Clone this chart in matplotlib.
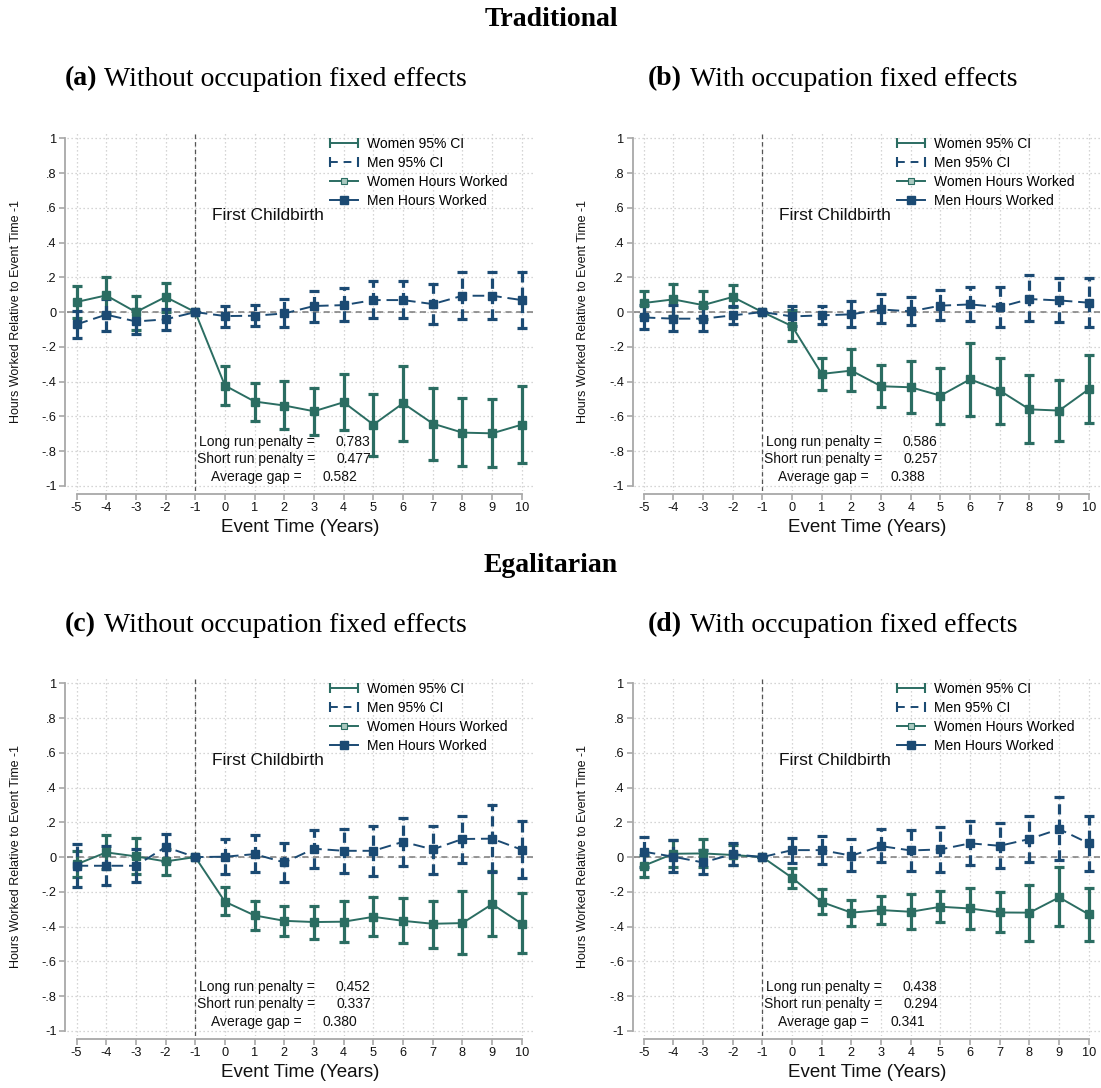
import matplotlib
matplotlib.use("Agg")
import matplotlib.pyplot as plt
import numpy as np
from matplotlib.lines import Line2D
from matplotlib.legend_handler import HandlerLine2D

plt.rcParams['font.family'] = ['Liberation Sans', 'DejaVu Sans']

# ---------------- data ----------------
event_time = list(range(-5, 11))
ytick_vals = [-1, -0.8, -0.6, -0.4, -0.2, 0, 0.2, 0.4, 0.6, 0.8, 1]
ytick_labels = ["-1", "-.8", "-.6", "-.4", "-.2", "0", ".2", ".4", ".6", ".8", "1"]

women_a = [0.058, 0.096, 0.0, 0.087, 0.0, -0.423, -0.515, -0.538, -0.571, -0.519, -0.648, -0.525, -0.642, -0.694, -0.698, -0.648]
women_a_lo = [-0.035, -0.01, -0.105, 0.0, 0.0, -0.533, -0.625, -0.675, -0.71, -0.679, -0.831, -0.744, -0.85, -0.888, -0.892, -0.867]
women_a_hi = [0.15, 0.20, 0.095, 0.17, 0.0, -0.308, -0.408, -0.398, -0.435, -0.354, -0.469, -0.308, -0.435, -0.496, -0.502, -0.423]
men_a = [-0.071, -0.015, -0.054, -0.042, 0.0, -0.023, -0.021, -0.008, 0.035, 0.040, 0.069, 0.069, 0.046, 0.094, 0.094, 0.069]
men_a_lo = [-0.152, -0.11, -0.125, -0.102, 0.0, -0.085, -0.081, -0.087, -0.058, -0.052, -0.037, -0.037, -0.069, -0.042, -0.042, -0.092]
men_a_hi = [0.004, 0.075, 0.02, 0.02, 0.0, 0.035, 0.042, 0.075, 0.121, 0.138, 0.177, 0.177, 0.160, 0.229, 0.229, 0.229]

women_b = [0.052, 0.073, 0.040, 0.087, 0.0, -0.081, -0.356, -0.337, -0.427, -0.433, -0.481, -0.387, -0.452, -0.560, -0.567, -0.444]
women_b_lo = [-0.02, -0.02, -0.04, 0.03, 0.0, -0.165, -0.45, -0.456, -0.548, -0.581, -0.642, -0.596, -0.644, -0.754, -0.744, -0.640]
women_b_hi = [0.121, 0.160, 0.121, 0.154, 0.0, 0.01, -0.262, -0.212, -0.302, -0.283, -0.321, -0.179, -0.262, -0.363, -0.392, -0.246]
men_b = [-0.031, -0.038, -0.038, -0.019, 0.0, -0.025, -0.019, -0.013, 0.015, 0.004, 0.037, 0.044, 0.029, 0.075, 0.067, 0.054]
men_b_lo = [-0.100, -0.108, -0.108, -0.069, 0.0, -0.081, -0.071, -0.087, -0.063, -0.075, -0.046, -0.054, -0.087, -0.054, -0.058, -0.087]
men_b_hi = [0.04, 0.038, 0.03, 0.033, 0.0, 0.033, 0.035, 0.063, 0.102, 0.087, 0.125, 0.144, 0.144, 0.213, 0.196, 0.196]

women_c = [-0.042, 0.027, 0.004, -0.025, 0.0, -0.257, -0.336, -0.367, -0.374, -0.372, -0.344, -0.367, -0.384, -0.380, -0.271, -0.384]
women_c_lo = [-0.117, -0.07, -0.098, -0.102, 0.0, -0.336, -0.422, -0.453, -0.470, -0.488, -0.453, -0.493, -0.522, -0.559, -0.453, -0.553]
women_c_hi = [0.035, 0.127, 0.107, 0.046, 0.0, -0.173, -0.253, -0.280, -0.280, -0.253, -0.230, -0.236, -0.253, -0.198, -0.083, -0.209]
men_c = [-0.050, -0.050, -0.050, 0.058, 0.0, 0.002, 0.017, -0.031, 0.048, 0.036, 0.036, 0.088, 0.044, 0.104, 0.106, 0.042]
men_c_lo = [-0.171, -0.159, -0.142, -0.02, 0.0, -0.098, -0.088, -0.142, -0.061, -0.090, -0.111, -0.050, -0.100, -0.033, -0.084, -0.123]
men_c_hi = [0.075, 0.065, 0.046, 0.134, 0.0, 0.104, 0.127, 0.081, 0.155, 0.161, 0.179, 0.226, 0.179, 0.236, 0.299, 0.207]

women_d = [-0.050, 0.019, 0.021, 0.012, 0.0, -0.119, -0.259, -0.320, -0.305, -0.315, -0.286, -0.296, -0.319, -0.320, -0.232, -0.330]
women_d_lo = [-0.113, -0.06, -0.06, -0.046, 0.0, -0.178, -0.326, -0.397, -0.388, -0.415, -0.372, -0.415, -0.434, -0.482, -0.395, -0.482]
women_d_hi = [0.01, 0.10, 0.104, 0.07, 0.0, -0.061, -0.186, -0.248, -0.223, -0.213, -0.196, -0.177, -0.202, -0.161, -0.060, -0.177]
men_d = [0.031, 0.002, -0.031, 0.017, 0.0, 0.040, 0.040, 0.008, 0.063, 0.038, 0.044, 0.079, 0.065, 0.104, 0.161, 0.079]
men_d_lo = [-0.06, -0.084, -0.100, -0.046, 0.0, -0.036, -0.042, -0.079, -0.031, -0.079, -0.084, -0.044, -0.061, -0.027, -0.017, -0.079]
men_d_hi = [0.113, 0.096, 0.04, 0.079, 0.0, 0.107, 0.119, 0.104, 0.161, 0.155, 0.173, 0.207, 0.196, 0.236, 0.344, 0.236]

stat_labels = ["Long run penalty =", "Short run penalty =", "Average gap ="]
stats_a = ["0.783", "0.477", "0.582"]
stats_b = ["0.586", "0.257", "0.388"]
stats_c = ["0.452", "0.337", "0.380"]
stats_d = ["0.438", "0.294", "0.341"]

legend_labels = ["Women 95% CI", "Men 95% CI", "Women Hours Worked", "Men Hours Worked"]

# ---------------- style ----------------
W_COL = '#2b6d62'
M_COL = '#1b4a73'
SPINE = '#a8a8a8'
GRID = '#c8c8c8'

W, H = 1101, 1088
fig = plt.figure(figsize=(W / 100, H / 100), dpi=100)


def add_axes_px(left, right, top, bottom):
    return fig.add_axes([left / W, 1 - bottom / H, (right - left) / W, (bottom - top) / H])


def draw_panel(ax, women, wlo, whi, men, mlo, mhi, stats):
    x = np.array(event_time, dtype=float)
    women = np.array(women); wlo = np.array(wlo); whi = np.array(whi)
    men = np.array(men); mlo = np.array(mlo); mhi = np.array(mhi)
    ax.set_xlim(-5.32, 10.41)
    ax.set_ylim(-1.03, 1.04)
    ax.set_xticks(event_time)
    ax.set_xticklabels([str(v) for v in event_time])
    ax.set_yticks(ytick_vals)
    ax.set_yticklabels(ytick_labels)
    ax.grid(True, color=GRID, linestyle=(0, (1, 2.2)), linewidth=0.9)
    ax.set_axisbelow(True)
    for s in ['top', 'right']:
        ax.spines[s].set_visible(False)
    ax.spines['left'].set_bounds(-1, 1)
    ax.spines['bottom'].set_bounds(-5, 10)
    ax.spines['left'].set_position(('outward', 1.2))
    ax.spines['bottom'].set_position(('outward', 2.2))
    for s in ['left', 'bottom']:
        ax.spines[s].set_color(SPINE)
        ax.spines[s].set_linewidth(1.3)
    ax.tick_params(axis='both', colors=SPINE, length=4.2, width=1.2, labelcolor='#111111', labelsize=9.2)
    ax.tick_params(axis='y', pad=2)
    ax.tick_params(axis='x', pad=1.5)

    ax.axhline(0, color='#7a7a7a', linestyle=(0, (4, 3)), linewidth=1.1, zorder=1)
    ax.axvline(-1, color='#555555', linestyle=(0, (3.5, 2.5)), linewidth=0.9, zorder=1)

    ax.errorbar(x, women, yerr=[women - wlo, whi - women], fmt='none', ecolor=W_COL,
                elinewidth=2.3, capsize=3.8, capthick=2.3, zorder=3)
    ebm = ax.errorbar(x, men, yerr=[men - mlo, mhi - men], fmt='none', ecolor=M_COL,
                      elinewidth=2.3, capsize=3.8, capthick=2.3, zorder=4)
    ebm.lines[2][0].set_linestyle((0, (3.2, 1.6)))
    ax.plot(x, women, color=W_COL, lw=1.4, marker='s', ms=5.5, zorder=5)
    ax.plot(x, men, color=M_COL, lw=1.4, ls=(0, (6, 3)), marker='s', ms=5.5, zorder=6)

    ax.text(-0.44, 0.554, "First Childbirth", fontsize=12.5, va='center', ha='left', color='#111111')
    ys = [-0.747, -0.848, -0.948]
    lx = [-0.88, -0.94, -0.47]
    vx = [3.73, 3.77, 3.30]
    for lab, val, yy, a, b in zip(stat_labels, stats, ys, lx, vx):
        ax.text(a, yy, lab, fontsize=10, va='center', ha='left', color='#111111')
        ax.text(b, yy, val, fontsize=10, va='center', ha='left', color='#111111')

    h1 = Line2D([], [], color=W_COL, lw=1.4, marker='|', ms=7, mew=1.5)
    h2 = Line2D([], [], color=M_COL, lw=1.4, ls=(0, (4, 3)), marker='|', ms=7, mew=1.5)
    h3 = Line2D([], [], color=W_COL, lw=1.4, marker='s', ms=3.8, mfc='#a9c9c0', mec=W_COL, mew=0.8)
    h4 = Line2D([], [], color=M_COL, lw=1.4, marker='s', ms=6)
    ax.legend([h1, h2, h3, h4], legend_labels, loc='upper left', bbox_to_anchor=(0.563, 0.985),
              frameon=False, fontsize=10, handlelength=2.0, handletextpad=0.65,
              labelspacing=0.36, borderpad=0, borderaxespad=0, numpoints=1,
              handler_map={h1: HandlerLine2D(numpoints=2, marker_pad=0),
                           h2: HandlerLine2D(numpoints=2, marker_pad=0)})
    ax.set_xlabel("Event Time (Years)", fontsize=13.5, color='#111111')
    ax.xaxis.set_label_coords(0.5, -0.078)
    ax.set_ylabel("Hours Worked Relative to Event Time -1", fontsize=9, color='#111111')
    ax.yaxis.set_label_coords(-0.097, 0.5)


ax_a = add_axes_px(67, 534, 131.4, 491)
ax_b = add_axes_px(634.2, 1101, 131.4, 491)
ax_c = add_axes_px(67, 534, 676.4, 1036)
ax_d = add_axes_px(634.2, 1101, 676.4, 1036)

draw_panel(ax_a, women_a, women_a_lo, women_a_hi, men_a, men_a_lo, men_a_hi, stats_a)
draw_panel(ax_b, women_b, women_b_lo, women_b_hi, men_b, men_b_lo, men_b_hi, stats_b)
draw_panel(ax_c, women_c, women_c_lo, women_c_hi, men_c, men_c_lo, men_c_hi, stats_c)
draw_panel(ax_d, women_d, women_d_lo, women_d_hi, men_d, men_d_lo, men_d_hi, stats_d)

serif = ['Liberation Serif', 'DejaVu Serif']
fig.text(551 / W, 1 - 19 / H, "Traditional", fontsize=20, fontweight='bold', family=serif,
         ha='center', va='center')
fig.text(551 / W, 1 - 566 / H, "Egalitarian", fontsize=20, fontweight='bold', family=serif,
         ha='center', va='center')

subtitles = [("(a)", "Without occupation fixed effects", 65, 104, 79),
             ("(b)", "With occupation fixed effects", 648, 690, 79),
             ("(c)", "Without occupation fixed effects", 65, 104, 625),
             ("(d)", "With occupation fixed effects", 648, 690, 625)]
for tag, txt, x0, x1, y0 in subtitles:
    fig.text(x0 / W, 1 - y0 / H, tag, fontsize=20, fontweight='bold', family=serif,
             ha='left', va='center')
    fig.text(x1 / W, 1 - y0 / H, txt, fontsize=20, family=serif, ha='left', va='center')

fig.savefig("out.png", dpi=100)
